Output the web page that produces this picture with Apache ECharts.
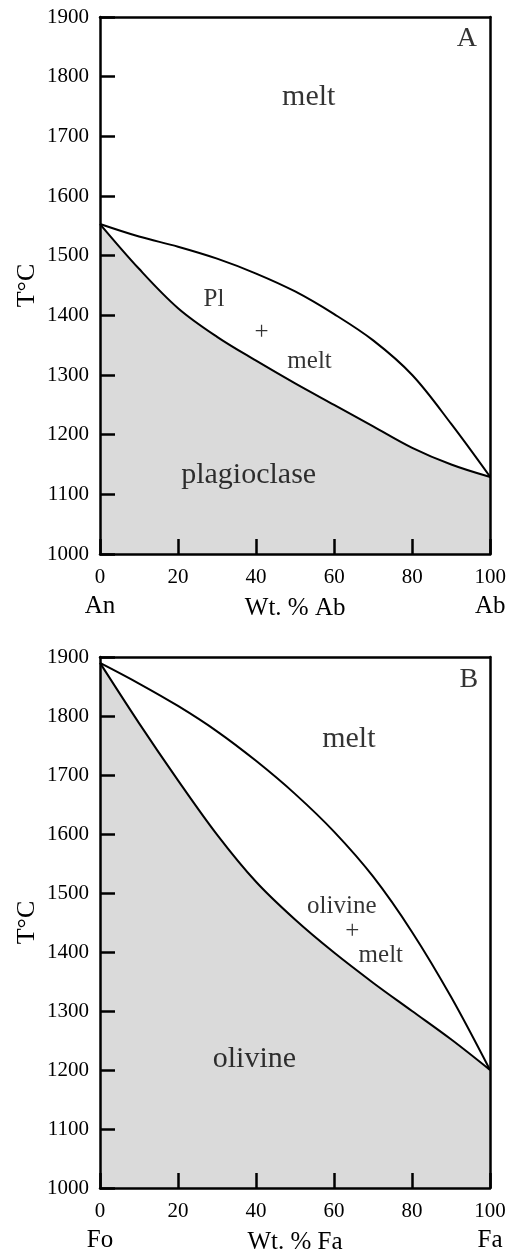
<!DOCTYPE html>
<html>
<head>
<meta charset="utf-8">
<script src="https://cdn.jsdelivr.net/npm/echarts@6/dist/echarts.min.js"></script>
<style>
  html, body { margin: 0; padding: 0; background: #fff; }
  #chart { width: 509px; height: 1256px; }
</style>
</head>
<body>
<div id="chart"></div>
<script>
// composition, wt. % of the second end member
const composition = [0, 10, 20, 30, 40, 50, 60, 70, 80, 90, 100]

// A: plagioclase (An - Ab), temperatures in °C
const plLiquidus = [1553, 1532, 1515, 1495, 1470, 1440, 1402, 1358, 1300, 1218, 1129]
const plSolidus  = [1553, 1478, 1412, 1364, 1324, 1286, 1250, 1214, 1178, 1150, 1129]

// B: olivine (Fo - Fa)
const olLiquidus = [1890, 1855, 1817, 1774, 1724, 1668, 1604, 1528, 1434, 1324, 1200]
const olSolidus  = [1890, 1788, 1691, 1599, 1519, 1455, 1399, 1348, 1300, 1252, 1200]

const plEnds = ['An', 'Ab']
const olEnds = ['Fo', 'Fa']
const plAxisName = 'Wt. % Ab'
const olAxisName = 'Wt. % Fa'
const tempName = 'T°C'

// field labels: [wt. %, °C, text]
const plLabels = [
  [94, 1863, 'A'],
  [53.5, 1766, 'melt'],
  [29.2, 1427, 'Pl'],
  [41.4, 1372, '+'],
  [53.7, 1322, 'melt'],
  [38.1, 1132, 'plagioclase']
]
const olLabels = [
  [94.6, 1862, 'B'],
  [63.8, 1761, 'melt'],
  [62, 1477, 'olivine'],
  [64.7, 1435, '+'],
  [72, 1395, 'melt'],
  [39.6, 1218, 'olivine']
]

const FONT = '"Liberation Serif", "DejaVu Serif", serif'
const chart = echarts.init(document.getElementById('chart'))

const zip = (xs, ys) => xs.map((x, i) => [x, ys[i]])

const bottomAxis = (grid, ends, name) => ({
  type: 'value', gridIndex: grid, position: 'bottom', min: 0, max: 100, interval: 20, z: 5,
  name: name, nameLocation: 'middle', nameGap: 42, nameMoveOverlap: false,
  nameTextStyle: { fontFamily: FONT, fontSize: 25, color: '#000' },
  axisLine: { show: true, onZero: false, lineStyle: { color: '#000', width: 2.5 } },
  axisTick: { show: true, inside: true, length: 15, lineStyle: { color: '#000', width: 2.5 } },
  axisLabel: {
    margin: 10, color: '#000', fontFamily: FONT,
    formatter: v => v === 0 ? `{v|0}\n{n|${ends[0]}}` : v === 100 ? `{v|100}\n{n|${ends[1]}}` : `{v|${v}}`,
    rich: {
      v: { fontSize: 21, lineHeight: 26, fontFamily: FONT, color: '#000' },
      n: { fontSize: 25, lineHeight: 32, fontFamily: FONT, color: '#000' }
    }
  },
  splitLine: { show: false }
})

const frameX = grid => ({
  type: 'value', gridIndex: grid, position: 'top', min: 0, max: 100, z: 5,
  axisLine: { show: true, onZero: false, lineStyle: { color: '#000', width: 2.5 } },
  axisTick: { show: false }, axisLabel: { show: false }, splitLine: { show: false }
})

const leftAxis = grid => ({
  type: 'value', gridIndex: grid, position: 'left', min: 1000, max: 1900, interval: 100, z: 5,
  name: tempName, nameLocation: 'middle', nameGap: 60, nameRotate: 90, nameMoveOverlap: false,
  nameTextStyle: { fontFamily: FONT, fontSize: 26, color: '#000' },
  axisLine: { show: true, onZero: false, lineStyle: { color: '#000', width: 2.5 } },
  axisTick: { show: true, inside: true, length: 15, lineStyle: { color: '#000', width: 2.5 } },
  axisLabel: { margin: 11, color: '#000', fontFamily: FONT, fontSize: 21, formatter: v => String(v) },
  splitLine: { show: false }
})

const frameY = grid => ({
  type: 'value', gridIndex: grid, position: 'right', min: 1000, max: 1900, z: 5,
  axisLine: { show: true, onZero: false, lineStyle: { color: '#000', width: 2.5 } },
  axisTick: { show: false }, axisLabel: { show: false }, splitLine: { show: false }
})

const bigWords = ['melt', 'plagioclase', 'olivine']

const curveSeries = (axis, liquidus, solidus) => [
  {
    type: 'line', xAxisIndex: axis, yAxisIndex: axis, data: zip(composition, solidus),
    smooth: 0.35, symbol: 'none', silent: true, z: 2,
    lineStyle: { color: '#000', width: 2 },
    areaStyle: { color: '#dadada', opacity: 1, origin: 'start' }
  },
  {
    type: 'line', xAxisIndex: axis, yAxisIndex: axis, data: zip(composition, liquidus),
    smooth: 0.35, symbol: 'none', silent: true, z: 3,
    lineStyle: { color: '#000', width: 2 }
  }
]

const labelSeries = (axis, labels) => ({
  type: 'scatter', xAxisIndex: axis, yAxisIndex: axis, symbolSize: 0, silent: true, z: 6,
  data: labels.map((l, i) => {
    const big = bigWords.includes(l[2]) && (i === 1 || i === labels.length - 1)
    const panel = i === 0
    return {
      value: [l[0], l[1]], name: l[2],
      label: { fontSize: panel ? 28 : big ? 30 : 25 }
    }
  }),
  label: {
    show: true, position: 'inside', formatter: p => p.name,
    color: '#000', fontFamily: FONT
  }
})

chart.setOption({
  animation: false,
  backgroundColor: '#fff',
  grid: [
    { left: 100, top: 17, width: 391, height: 537 },
    { left: 100, top: 657, width: 390, height: 539 }
  ],
  xAxis: [bottomAxis(0, plEnds, plAxisName), frameX(0), bottomAxis(1, olEnds, olAxisName), frameX(1)],
  yAxis: [leftAxis(0), frameY(0), leftAxis(1), frameY(1)],
  series: [
    ...curveSeries(0, plLiquidus, plSolidus),
    labelSeries(0, plLabels),
    ...curveSeries(2, olLiquidus, olSolidus),
    labelSeries(2, olLabels)
  ]
})
</script>
</body>
</html>
